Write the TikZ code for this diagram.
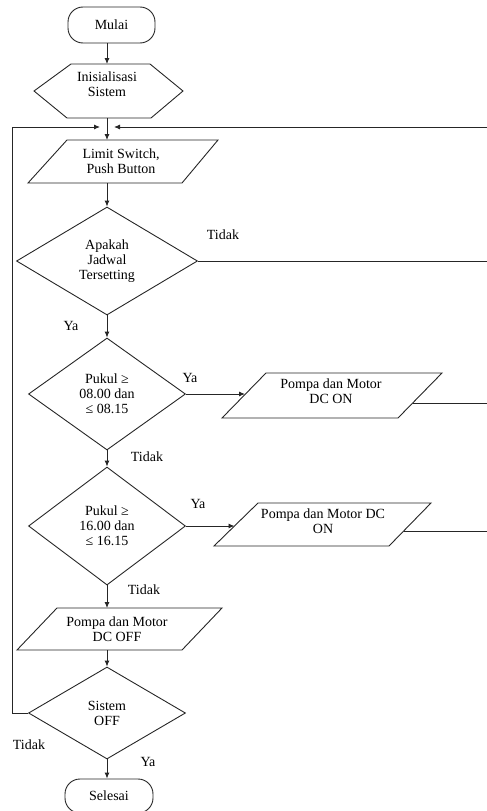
\documentclass[tikz,border=0pt]{standalone}
\usepackage{fontspec}
\setmainfont{Liberation Serif}
\usetikzlibrary{shapes.geometric,arrows.meta}
\begin{document}
\begin{tikzpicture}[x=1pt,y=-1pt,
  line/.style={draw=black!85, line width=0.9pt},
  arr/.style={line, -{Latex[length=6pt,width=5pt]}},
  txt/.style={font=\fontsize{14}{15}\selectfont, align=center, inner sep=0pt},
  dec/.style={diamond, line, txt, aspect=1},
  term/.style={rectangle, rounded corners=15pt, line, txt}
]
\useasboundingbox (0,0) rectangle (487,811);

% start
\node[term, minimum width=87pt, minimum height=36pt] (start) at (111.5,25) {Mulai};

% init hexagon
\draw[line] (34,91) -- (71,64) -- (150,64) -- (183,91) -- (151,118) -- (67,118) -- cycle;
\coordinate (hexN) at (107,64);
\coordinate (hexS) at (107,118);
\node[txt] (init) at (107,84) {Inisialisasi\\Sistem};
\draw[arr] (start.south -| hexN) -- (hexN);

% input parallelogram
\draw[line] (67,140) -- (218,140) -- (182,183) -- (28,183) -- cycle;
\coordinate (limN) at (107,140);
\coordinate (limS) at (107,183);
\node[txt] (lim) at (121,161) {Limit Switch,\\Push Button};
\draw[arr] (hexS) -- (limN);

% decision 1
\node[dec, minimum width=181pt, minimum height=108pt] (d1) at (107,261) {Apakah\\Jadwal\\Tersetting};
\draw[arr] (limS) -- (d1.north);

% decision 2
\node[dec, minimum width=157pt, minimum height=112pt] (d2) at (107,394) {Pukul ≥\\08.00 dan\\≤ 08.15};
\draw[arr] (d1.south) -- (d2.north);

% output ON 1
\draw[line] (266,373) -- (442,373) -- (398,418) -- (222,418) -- cycle;
\coordinate (p1W) at (245,394);
\coordinate (p1E) at (413,403);
\node[txt] (on1) at (331,391) {Pompa dan Motor\\DC ON};
\draw[arr] (d2.east) -- (p1W);

% decision 3
\node[dec, minimum width=157pt, minimum height=118pt] (d3) at (107,526) {Pukul ≥\\16.00 dan\\≤ 16.15};
\draw[arr] (d2.south) -- (d3.north);

% output ON 2
\draw[line] (258,503) -- (431,503) -- (389,546) -- (214,546) -- cycle;
\coordinate (p2W) at (234.5,526);
\coordinate (p2E) at (404,531);
\node[txt] (on2) at (323,521) {Pompa dan Motor DC\\ON};
\draw[arr] (d3.east) -- (p2W);

% output OFF
\draw[line] (57,608) -- (222,608) -- (182,650) -- (17,650) -- cycle;
\coordinate (offN) at (107,608);
\coordinate (offS) at (107,650);
\node[txt] (off) at (117,629) {Pompa dan Motor\\DC OFF};
\draw[arr] (d3.south) -- (offN);

% decision 4
\node[dec, minimum width=157pt, minimum height=92pt] (d4) at (107,713) {Sistem\\OFF};
\draw[arr] (offS) -- (d4.north);

% end
\node[term, minimum width=88pt, minimum height=34pt] (stop) at (109,796) {Selesai};
\draw[arr] (d4.south) -- (stop.north -| d4.south);

% loop back lines
\coordinate (jl) at (100,127);
\coordinate (jr) at (114,127);
\coordinate (lb) at (12,713);
\coordinate (lt) at (12,127);
\draw[arr] (d4.west) -- (lb) -- (lt) -- (jl);

\coordinate (rx) at (490,0);
\coordinate (rtop) at (490,127);
\draw[line] (d1.east) -- (d1.east -| rx);
\draw[line] (p1E) -- (p1E -| rx);
\draw[line] (p2E) -- (p2E -| rx) -- (rtop);
\draw[arr] (rtop) -- (jr);

% labels
\node[txt] (t1) at (223,235) {Tidak};
\node[txt] (y1) at (71,326) {Ya};
\node[txt] (y2) at (190,378) {Ya};
\node[txt] (t2) at (147,457) {Tidak};
\node[txt] (y3) at (198,504) {Ya};
\node[txt] (t3) at (144,590) {Tidak};
\node[txt] (t4) at (29,745) {Tidak};
\node[txt] (y4) at (148,762) {Ya};
\end{tikzpicture}
\end{document}
